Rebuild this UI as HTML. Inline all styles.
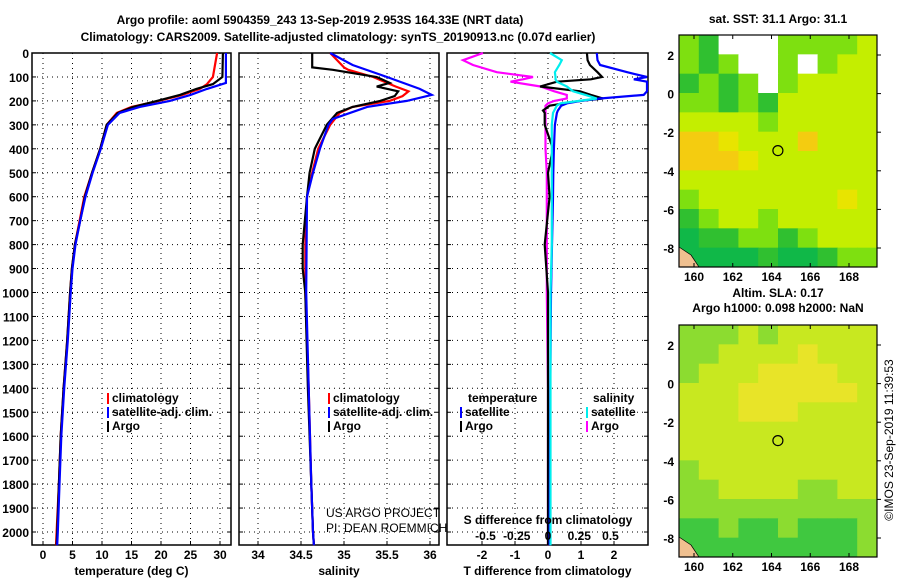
<!DOCTYPE html>
<html><head><meta charset="utf-8"><style>
body{margin:0;background:#fff;}
svg text{font-family:"Liberation Sans",sans-serif;font-weight:bold;font-size:12px;fill:#000;}
</style></head><body>
<svg id="c" width="900" height="580" xmlns="http://www.w3.org/2000/svg">
<text x="320" y="24" text-anchor="middle" font-size="13.5">Argo profile: aoml 5904359_243 13-Sep-2019 2.953S 164.33E (NRT data)</text>
<text x="338" y="41" text-anchor="middle" font-size="13.5">Climatology: CARS2009. Satellite-adjusted climatology: synTS_20190913.nc (0.07d earlier)</text>
<g id="g"></g>
<text transform="translate(893,440) rotate(-90)" text-anchor="middle" font-size="11" style="font-weight:normal">©IMOS 23-Sep-2019 11:39:53</text>
</svg>
<script>
// ---- data ----
const depthTicks=[0,100,200,300,400,500,600,700,800,900,1000,1100,1200,1300,1400,1500,1600,1700,1800,1900,2000];
const tempTicks=[0,5,10,15,20,25,30];
const salTicks=[34,34.5,35,35.5,36];
const tdTicks=[-2,-1,0,1,2];
const sdTicks=[-0.5,-0.25,0,0.25,0.5];
const sdTickLabels=["-0.5","-0.25","0","0.25","0.5"];
const tDepth=[0,100,130,150,175,200,225,250,300,400,500,600,700,800,900,1000,1200,1400,1600,1800,2000,2055];
const tArgo=[30.5,30.4,28.8,26,23.2,19.3,15.3,12.7,10.8,9.7,8.3,7.1,6.3,5.4,4.9,4.6,4.1,3.5,3.0,2.7,2.4,2.3];
const tClim=[29.5,28.8,27.8,26.6,23.6,19.6,15.0,12.5,10.8,9.7,8.3,7.0,6.2,5.4,4.9,4.6,4.1,3.5,3.0,2.7,2.3,2.2];
const tSatDepth=[0,125,150,175,200,225,250,300,400,500,600,700,800,900,1000,1200,1400,1600,1800,2000,2055];
const tSat=[31.0,31.0,27.8,25,21.5,16.4,13,11,9.8,8.4,7.2,6.3,5.5,5.0,4.7,4.2,3.6,3.1,2.8,2.5,2.4];
const sDepth=[0,60,70,100,125,140,160,180,200,225,250,300,400,500,600,800,900,1000,1400,1800,2000,2055];
const sArgo=[34.63,34.63,34.87,35.38,35.53,35.38,35.63,35.59,35.42,35.1,34.92,34.8,34.66,34.6,34.57,34.52,34.52,34.55,34.58,34.62,34.64,34.65];
const sClim=[34.84,35.0,35.05,35.34,35.5,35.6,35.75,35.68,35.53,35.1,34.95,34.84,34.7,34.63,34.57,34.55,34.55,34.55,34.59,34.62,34.64,34.65];
const sSatDepth=[0,50,100,150,175,200,225,250,275,300,400,500,600,1000,1400,1800,2000,2055];
const sSat=[34.84,35.1,35.5,35.88,36.02,35.73,35.27,35.07,34.87,34.82,34.72,34.64,34.57,34.56,34.59,34.62,34.64,34.65];
const dDepth=[0,30,50,80,100,110,120,140,160,175,190,200,210,220,240,250,300,400,500,600,800,1000,1400,2000,2055];
const dTSat=[1.48,1.5,1.58,2.4,3.0,2.6,3.0,3.0,3.0,2.9,1.58,1.0,0.58,0.4,0.3,0.27,0.21,0.18,0.16,0.15,0.12,0.09,0.07,0.05,0.05];
const dTArgo=[1.18,1.2,1.27,1.5,1.64,1.3,0.27,-0.24,0.97,1.3,1.67,0.97,0.5,0.05,-0.15,-0.1,-0.1,0.15,0,0.05,-0.1,0,0,0,0];
const dSSat=[0.016,0.11,0.09,0.055,0.06,0.06,0.07,0.15,0.2,0.3,0.39,0.25,0.1,0.07,0.05,0.04,0.03,0.03,0.03,0.03,0.03,0.02,0.02,0.02,0.02];
const dSArgo=[-0.52,-0.68,-0.6,-0.41,-0.12,-0.2,-0.3,-0.06,0.05,0.15,0.15,0.05,0.0,-0.02,-0.02,-0.02,-0.02,-0.02,-0.01,-0.01,-0.01,-0.01,0,0,0];
const sstRows=["gGWWWggggy","gGgWWgWgyy","GgGgWgyyyy","ggGgGyyyyy","yyyygyyyyy","OOYyyyOyyy","OOOYyyyyyy","yyyyyyyyyy","gyyyyyyyYy","Ggyygyyyyy","DGGggGgyyy","DDDDGDDGgg"];
const slaRows=["gggygyyyyy","ggyyyyYyyy","gyyyYYYYyy","yyyYYYYYYy","yyyYYYyyyy","yyyyyyyyyy","yyyyyyyyyy","gyyyyyyyyy","ggyyyyggyy","gggggggggg","GGgGGgGGGg","GGGGGGGGGg"];
const lonTicks=[160,162,164,166,168];
const latTicks=[2,0,-2,-4,-6,-8];
const argoLon=164.33, argoLat=-2.953;
// ---- drawing ----
const NS="http://www.w3.org/2000/svg",G=document.getElementById('g');
function mk(t,a,p){const e=document.createElementNS(NS,t);for(const k in a)e.setAttribute(k,a[k]);(p||G).appendChild(e);return e;}
const top0=53,bot=545;
const yD=d=>top0+d*(532-top0)/2000;
function lin(d0,d1,p0,p1){return v=>p0+(v-d0)*(p1-p0)/(d1-d0);}
const panels=[
 {x0:32,x1:231,sx:lin(0,30,43,220),ticks:tempTicks,name:'temperature-panel',title:'temperature (deg C)'},
 {x0:239,x1:439,sx:lin(34,36,258,430),ticks:salTicks,name:'salinity-panel',title:'salinity'},
 {x0:447,x1:648,sx:lin(0,1,548,581),ticks:tdTicks,name:'difference-panel',title:'T difference from climatology'}];
panels.forEach((p,i)=>{
 const gp=mk('g',{});
 
 
 depthTicks.forEach(d=>{const l=mk('line',{x1:p.x0,x2:p.x1,y1:yD(d),y2:yD(d),stroke:'#000','stroke-width':1,'stroke-dasharray':'1,4'},gp);
  
  mk('line',{x1:p.x0,x2:p.x0+4,y1:yD(d),y2:yD(d),stroke:'#000'},gp);mk('line',{x1:p.x1-4,x2:p.x1,y1:yD(d),y2:yD(d),stroke:'#000'},gp);});
 p.ticks.forEach((t,j)=>{const x=p.sx(t);mk('line',{x1:x,x2:x,y1:top0,y2:bot,stroke:'#000','stroke-dasharray':'1,4'},gp);
  mk('line',{x1:x,x2:x,y1:bot-4,y2:bot,stroke:'#000'},gp);
  const tx=mk('text',{x:x,y:559,'text-anchor':'middle'},gp);tx.textContent=String(t);
  });
 const r=mk('rect',{x:p.x0,y:top0,width:p.x1-p.x0,height:bot-top0,fill:'none',stroke:'#000','stroke-width':1.5},gp);
 const tt=mk('text',{x:(p.x0+p.x1)/2,y:575,'text-anchor':'middle'},gp);tt.textContent=p.title;
 
});
depthTicks.forEach(d=>{const t=mk('text',{x:29,y:yD(d)+5,'text-anchor':'end'});t.textContent=d;
 });
function line(ds,vs,sx,col,name,w){const pts=ds.map((d,i)=>sx(vs[i]).toFixed(1)+','+yD(d).toFixed(1)).join(' ');
 const e=mk('polyline',{points:pts,fill:'none',stroke:col,'stroke-width':w||2.2});
 }
const P=panels;
line(tDepth,tClim,P[0].sx,'#f00','temp-climatology-line');
line(tDepth,tArgo,P[0].sx,'#000','temp-argo-line');
line(tSatDepth,tSat,P[0].sx,'#00f','temp-satellite-line');
line(sDepth,sClim,P[1].sx,'#f00','sal-climatology-line');
line(sDepth,sArgo,P[1].sx,'#000','sal-argo-line');
line(sSatDepth,sSat,P[1].sx,'#00f','sal-satellite-line');
const sdx=lin(0,1,548,673);
line(dDepth,dSArgo,sdx,'#f0f','sdiff-argo-line');
line(dDepth,dTArgo,P[2].sx,'#000','tdiff-argo-line');
line(dDepth,dTSat,P[2].sx,'#00f','tdiff-satellite-line');
line(dDepth,dSSat,sdx,'#0ee','sdiff-satellite-line');
sdTicks.forEach((t,i)=>{const tx=mk('text',{x:sdx(t),y:540,'text-anchor':'middle'});tx.textContent=sdTickLabels[i];
 });
const st=mk('text',{x:548,y:524,'text-anchor':'middle'});st.textContent='S difference from climatology';

function leg(x,y,col,label,name){mk('rect',{x:x,y:y-9,width:2,height:11,fill:col});
 const t=mk('text',{x:x+5,y:y});t.textContent=label;}
[[107,'#f00','climatology'],[107,'#00f','satellite-adj. clim.'],[107,'#000','Argo']].forEach((a,i)=>leg(a[0],402+i*14,a[1],a[2],'legend-entry'));
[[328,'#f00','climatology'],[328,'#00f','satellite-adj. clim.'],[328,'#000','Argo']].forEach((a,i)=>leg(a[0],402+i*14,a[1],a[2],'legend-entry'));
let tl=mk('text',{x:468,y:402});tl.textContent='temperature';
tl=mk('text',{x:593,y:402});tl.textContent='salinity';
leg(460,416,'#00f','satellite','legend-entry');leg(460,430,'#000','Argo','legend-entry');
leg(586,416,'#0ee','satellite','legend-entry');leg(586,430,'#f0f','Argo','legend-entry');
tl=mk('text',{x:326,y:517,'font-size':12,style:'font-weight:normal'});tl.textContent='US ARGO PROJECT';
tl=mk('text',{x:326,y:532,'font-size':12,style:'font-weight:normal'});tl.textContent='PI: DEAN ROEMMICH';
// maps
const sstCol={W:'#fff',G:'#30c030',g:'#7ee010',y:'#c4ee00',Y:'#e8e400',O:'#f4cc10',D:'#10b848'};
const slaCol={G:'#40c840',g:'#8cdc30',y:'#c8e820',Y:'#e8e428'};
function map(oy,rows,cols,name,t1,t2){
 const gm=mk('g',{});
 const x0=679,x1=877,y0=oy,y1=oy+232;
 const lx=lin(160,168,694,849),ly=lin(2,-8,oy+20,oy+213);
 const nr=rows.length,nc=rows[0].length;
 const ch=(y1-y0)/nr,cw=(x1-x0)/nc;
 rows.forEach((r,i)=>{for(let j=0;j<nc;j++){const c=mk('rect',{x:x0+j*cw,y:y0+i*ch,width:cw+0.5,height:ch+0.5,fill:cols[r[j]]},gm);
  }});
 mk('path',{d:`M${x0},${y1-20} l12,8 l8,12 l-20,0 z`,fill:'#f0c090',stroke:'#000','stroke-width':0.7},gm);
 const ci=mk('circle',{cx:lx(argoLon),cy:ly(argoLat),r:5,fill:'none',stroke:'#000','stroke-width':1.2},gm);
 
 mk('rect',{x:x0,y:y0,width:x1-x0,height:y1-y0,fill:'none',stroke:'#000','stroke-width':1.2},gm);
 lonTicks.forEach(v=>{const x=lx(v);mk('line',{x1:x,x2:x,y1:y0,y2:y0+4,stroke:'#000'},gm);mk('line',{x1:x,x2:x,y1:y1-4,y2:y1,stroke:'#000'},gm);
  const t=mk('text',{x:x,y:y1+14,'text-anchor':'middle'},gm);t.textContent=v;});
 latTicks.forEach(v=>{const y=ly(v);mk('line',{x1:x1,x2:x1+4,y1:y,y2:y,stroke:'#000'},gm);
  const t=mk('text',{x:674,y:y+5,'text-anchor':'end'},gm);t.textContent=v;});
 let a=mk('text',{x:778,y:t2?oy-28:oy-12,'text-anchor':'middle'},gm);a.textContent=t1;
 if(t2){a=mk('text',{x:778,y:oy-13,'text-anchor':'middle'},gm);a.textContent=t2;}
}
map(35,sstRows,sstCol,'sst-map','sat. SST: 31.1 Argo: 31.1');
map(325,slaRows,slaCol,'sla-map','Altim. SLA: 0.17','Argo h1000: 0.098 h2000: NaN');
</script>
</body></html>
